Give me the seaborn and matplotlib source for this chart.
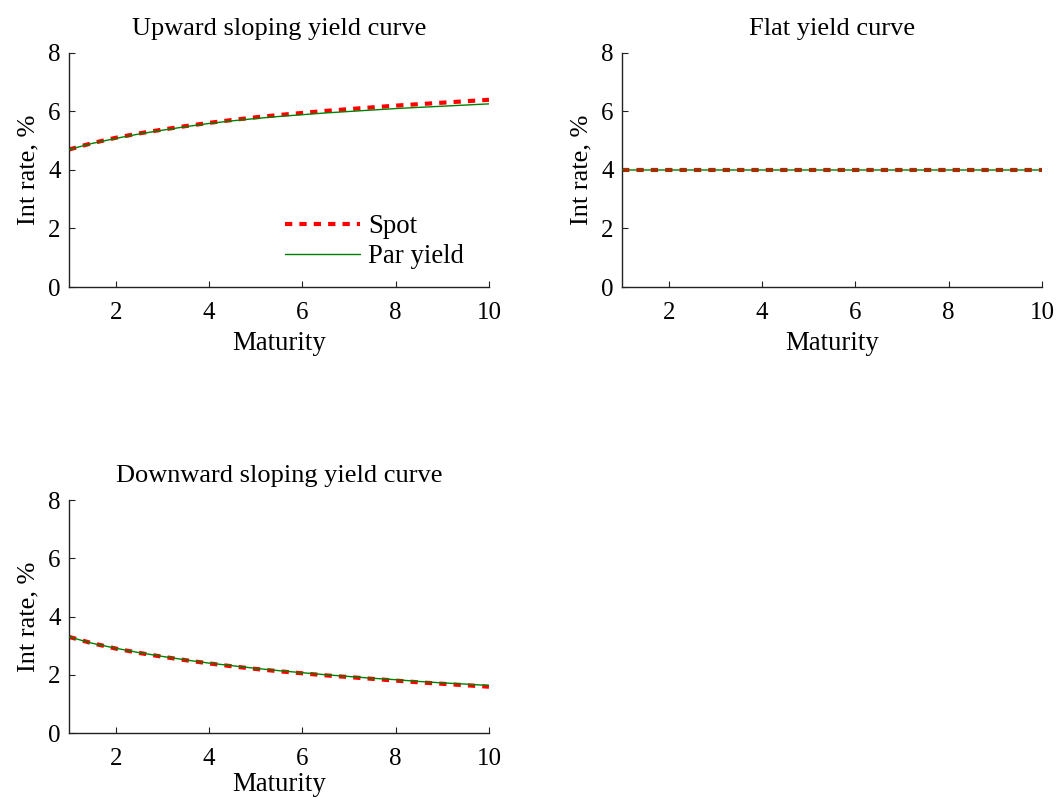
import numpy as np
import pandas as pd
import matplotlib
matplotlib.use("Agg")
import matplotlib.pyplot as plt
import seaborn as sns

# ---- data ----
maturity = [1.0, 1.5, 2.0, 2.5, 3.0, 3.5, 4.0, 4.5, 5.0, 5.5, 6.0, 6.5, 7.0, 7.5, 8.0, 8.5, 9.0, 9.5, 10.0]

up_spot = [4.70, 4.92, 5.10, 5.25, 5.38, 5.50, 5.61, 5.71, 5.80, 5.88, 5.95, 6.02, 6.08, 6.14, 6.20, 6.25, 6.30, 6.35, 6.40]
up_par = [4.70, 4.91, 5.08, 5.23, 5.36, 5.48, 5.59, 5.68, 5.76, 5.83, 5.89, 5.95, 6.00, 6.05, 6.10, 6.14, 6.18, 6.22, 6.26]

flat_spot = [4.0] * 19
flat_par = [4.0] * 19

down_spot = [3.30, 3.08, 2.90, 2.75, 2.62, 2.50, 2.39, 2.29, 2.20, 2.12, 2.05, 1.98, 1.92, 1.86, 1.80, 1.74, 1.69, 1.64, 1.59]
down_par = [3.30, 3.08, 2.91, 2.76, 2.63, 2.51, 2.40, 2.31, 2.22, 2.14, 2.07, 2.00, 1.94, 1.88, 1.83, 1.77, 1.72, 1.68, 1.63]

titles = ["Upward sloping yield curve", "Flat yield curve", "Downward sloping yield curve"]
series_names = ["Spot", "Par yield"]
x_ticks = [2, 4, 6, 8, 10]
y_ticks = [0, 2, 4, 6, 8]

# ---- style ----
sns.set_theme(style="ticks")
plt.rcParams["font.family"] = ["Liberation Serif", "DejaVu Serif"]
plt.rcParams["text.color"] = "black"
plt.rcParams["axes.labelcolor"] = "black"
FS_TICK = 18
FS_LAB = 19.3

fig = plt.figure(figsize=(10.57, 7.99), dpi=100)
positions = [
    [0.0653, 0.6408, 0.3973, 0.2929],
    [0.5885, 0.6408, 0.3973, 0.2929],
    [0.0653, 0.0826, 0.3973, 0.2916],
]
data = [(up_spot, up_par), (flat_spot, flat_par), (down_spot, down_par)]

for i, (pos, (spot, par), title) in enumerate(zip(positions, data, titles)):
    ax = fig.add_axes(pos)
    df = pd.DataFrame({"Maturity": maturity, "Spot": spot, "Par": par})
    sns.lineplot(data=df, x="Maturity", y="Spot", ax=ax, color="#ff0000",
                 linewidth=3.0, label=series_names[0] if i == 0 else None, zorder=2)
    ln = ax.lines[-1]
    ln.set_dashes((1.75, 1.7))
    ln.set_dash_capstyle("butt")
    ln.set_snap(False)
    sns.lineplot(data=df, x="Maturity", y="Par", ax=ax, color="#008000",
                 linewidth=1.0, label=series_names[1] if i == 0 else None, zorder=3)
    ax.lines[-1].set_snap(False)
    ax.set_xlim(1, 10)
    ax.set_ylim(0, 8)
    ax.set_xticks(x_ticks)
    ax.set_yticks(y_ticks)
    ax.tick_params(direction="in", length=4, width=0.8, labelsize=FS_TICK, colors="#222222",
                   labelcolor="black")
    ax.tick_params(axis="x", pad=11)
    ax.tick_params(axis="y", pad=6)
    for s in ["top", "right"]:
        ax.spines[s].set_visible(False)
    for s in ["left", "bottom"]:
        ax.spines[s].set_color("#222222")
        ax.spines[s].set_linewidth(1.0)
    ax.set_xlabel("Maturity", fontsize=FS_LAB, labelpad=5 if i < 2 else 1.5)
    ax.set_ylabel("Int rate, %", fontsize=19, labelpad=6)
    ax.set_title(title, fontsize=19, pad=13)
    ax.set_facecolor("white")
    if i == 0:
        ax.legend(loc="lower right", bbox_to_anchor=(0.94, 0.075), frameon=False,
                  fontsize=FS_LAB, handlelength=2.8, handletextpad=0.3, labelspacing=0.2,
                  borderaxespad=0.0, borderpad=0.0)
    else:
        leg = ax.get_legend()
        if leg is not None:
            leg.remove()

fig.savefig("out.png", dpi=100, facecolor="white")
